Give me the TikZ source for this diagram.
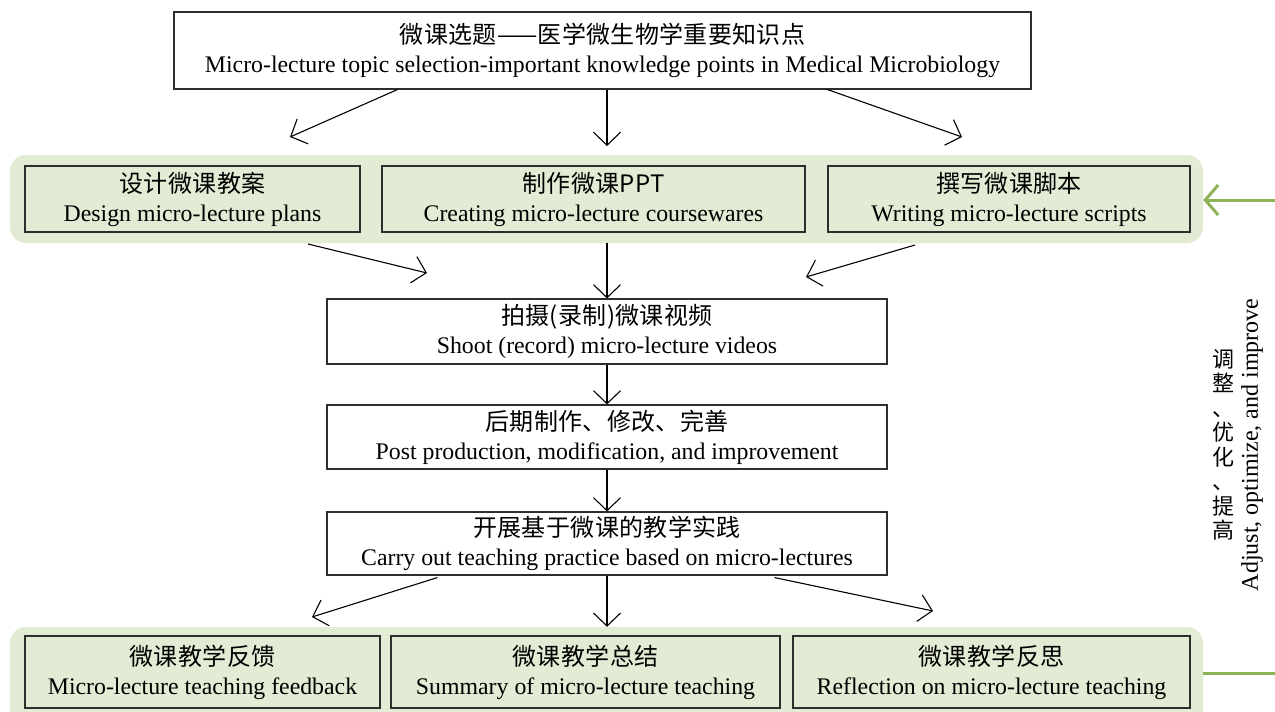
\documentclass[tikz,border=0pt]{standalone}
\usepackage{fontspec}
\setmainfont{Liberation Serif}
\newfontfamily\cjk{Noto Sans CJK SC}
\usetikzlibrary{arrows.meta,calc}
\definecolor{bandgreen}{HTML}{E2EBD3}
\definecolor{arrgreen}{HTML}{8DB356}
\definecolor{edge}{HTML}{2E2E2E}
\tikzset{
  box/.style={draw=edge,line width=1.1pt,inner sep=0pt,align=center,
    font=\fontsize{23.8}{29}\selectfont},
  gbox/.style={box,fill=bandgreen},
  band/.style={fill=bandgreen,rounded corners=16pt,inner sep=0pt},
  arr/.style={line width=1.1pt,-{Straight Barb[length=13pt,width=27pt,line width=1.1pt]}},
  garr/.style={draw=arrgreen,line width=3pt,-{Straight Barb[length=13pt,width=30pt,line width=3pt]}},
  gline/.style={draw=arrgreen,line width=3pt}
}
\newcommand{\zh}[1]{{\cjk\fontsize{24}{29}\selectfont\addfontfeature{LetterSpace=1.5}#1}}
\begin{document}
\begin{tikzpicture}[x=1pt,y=-1pt]
\useasboundingbox (0,0) rectangle (1275,712);
% bands
\node[band,minimum width=1193pt,minimum height=88pt] (band1) at (606.5,199) {};
\node[band,minimum width=1193pt,minimum height=110pt] (band2) at (606.5,682) {};
% top
\node[box,minimum width=857pt,minimum height=77pt] (top) at (602.5,50.5)
  {\zh{微课选题——医学微生物学重要知识点}\\Micro-lecture topic selection-important knowledge points in Medical Microbiology};
% row 1
\node[gbox,minimum width=335pt,minimum height=66pt] (b1) at (192.5,199)
  {\zh{设计微课教案}\\Design micro-lecture plans};
\node[gbox,minimum width=423pt,minimum height=66pt] (b2) at (593.5,199)
  {\zh{制作微课PPT}\\Creating micro-lecture coursewares};
\node[gbox,minimum width=362pt,minimum height=66pt] (b3) at (1009,199)
  {\zh{撰写微课脚本}\\Writing micro-lecture scripts};
% middle
\node[box,minimum width=560pt,minimum height=65pt] (shoot) at (607,331.5)
  {\zh{拍摄(录制)微课视频}\\Shoot (record) micro-lecture videos};
\node[box,minimum width=560pt,minimum height=64pt] (post) at (607,437)
  {\zh{后期制作、修改、完善}\\Post production, modification, and improvement};
\node[box,minimum width=560pt,minimum height=63pt] (carry) at (607,543.5)
  {\zh{开展基于微课的教学实践}\\Carry out teaching practice based on micro-lectures};
% row 2
\node[gbox,minimum width=355pt,minimum height=72pt] (c1) at (202.5,672)
  {\zh{微课教学反馈}\\Micro-lecture teaching feedback};
\node[gbox,minimum width=389pt,minimum height=72pt] (c2) at (585.5,672)
  {\zh{微课教学总结}\\Summary of micro-lecture teaching};
\node[gbox,minimum width=397pt,minimum height=72pt] (c3) at (991.5,672)
  {\zh{微课教学反思}\\Reflection on micro-lecture teaching};
% free ends
\coordinate (t1) at (290,137);
\coordinate (t2) at (607,146);
\coordinate (t3) at (962,137);
\coordinate (s1a) at (308,244);
\coordinate (s1) at (427,273);
\coordinate (s3a) at (915,245);
\coordinate (s3) at (806,277);
\coordinate (u1) at (312,617);
\coordinate (u3) at (933,611);
% arrows
\draw[arr] ($(top.south west)+(224,0)$) -- (t1);
\draw[arr] (top.south -| t2) -- (t2);
\draw[arr] ($(top.south west)+(654,0)$) -- (t3);
\draw[arr] (s1a) -- (s1);
\draw[arr] (band1.south -| shoot) -- (shoot.north);
\draw[arr] (s3a) -- (s3);
\draw[arr] (shoot) -- (post);
\draw[arr] (post) -- (carry);
\draw[arr] ($(carry.south west)+(111,2)$) -- (u1);
\draw[arr] (carry.south) -- (carry.south |- band2.north);
\draw[arr] ($(carry.south west)+(448,2)$) -- (u3);
% feedback loop
\coordinate (g1) at (1275,200);
\coordinate (g2) at (1275,673);
\draw[garr] (g1) -- (g1 -| band1.east);
\draw[gline] (g2 -| band2.east) -- (g2);
\node[inner sep=0pt,font=\cjk\fontsize{22}{24.5}\selectfont,align=center] (vzh) at (1223,445)
  {调\\整\\、\\优\\化\\、\\提\\高};
\node[inner sep=0pt,rotate=90,font=\fontsize{24}{28}\selectfont] (ven) at (1252,445)
  {Adjust, optimize, and improve};
\end{tikzpicture}
\end{document}
